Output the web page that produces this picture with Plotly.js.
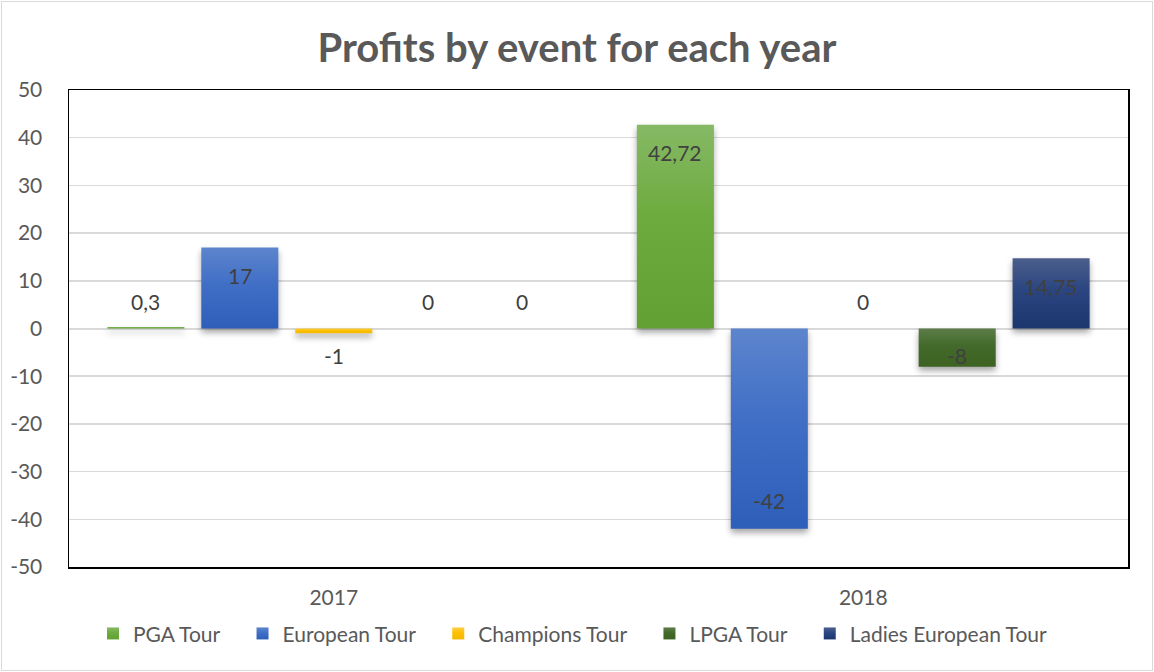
<!DOCTYPE html>
<html>
<head>
<meta charset="utf-8">
<script src="https://cdn.plot.ly/plotly-3.0.1.min.js"></script>
<style>
  html, body { margin: 0; padding: 0; background: #ffffff; }
  #wrap { position: relative; width: 1154px; height: 672px; }
  #chart { width: 1154px; height: 672px; }
  #frame { position: absolute; left: 1px; top: 1px; width: 1150px; height: 668px;
           border: 1px solid #d9d9d9; pointer-events: none; }
  .barlayer .point path { filter: drop-shadow(0px 4px 3px rgba(0,0,0,0.35)); }
</style>
</head>
<body>
<div id="wrap"><div id="chart"></div><div id="frame"></div></div>
<script>
const categories = ["2017", "2018"];
const seriesNames = ["PGA Tour", "European Tour", "Champions Tour", "LPGA Tour", "Ladies European Tour"];
const pgaTour = [0.3, 42.72];
const europeanTour = [17, -42];
const championsTour = [-1, 0];
const lpgaTour = [0, -8];
const ladiesEuropeanTour = [0, 14.75];
const yTickValues = [-50, -40, -30, -20, -10, 0, 10, 20, 30, 40, 50];

const seriesValues = [pgaTour, europeanTour, championsTour, lpgaTour, ladiesEuropeanTour];
const seriesColors = ["#6dab3e", "#416fc6", "#ffc000", "#436a2a", "#2a4580"];
const gradTop = ["#86b965", "#5d85cd", "#ffcd44", "#5c7c49", "#4c5f8c"];
const gradBottom = ["#62a033", "#2d5eb9", "#f5b800", "#3d6222", "#1c376e"];

const FONT = "Lato, 'Open Sans', sans-serif";
const bargap = 0.113;
const bargroupgap = 0.18;
const pxPerUnit = 478 / 100;
const legendExtraGap = 17;

function fmt(v) { return String(v).replace(".", ","); }

const traces = seriesValues.map((vals, i) => ({
  type: "bar",
  name: seriesNames[i],
  x: categories,
  y: vals,
  marker: { color: seriesColors[i], line: { width: 0 } },
  hoverinfo: "skip"
}));

const annotations = [];
seriesValues.forEach((vals, i) => {
  const offset = (i - 2) * (1 - bargap) / seriesValues.length;
  vals.forEach((v, j) => {
    const h = Math.abs(v) * pxPerUnit;
    const s = v < 0 ? -1 : 1;
    let y, yshift;
    if (h >= 55) { y = v; yshift = -s * 28; }
    else { y = 0; yshift = s * 27; }
    annotations.push({
      xref: "x", yref: "y", x: j + offset, y: y, yshift: yshift,
      text: fmt(v), showarrow: false, xanchor: "center", yanchor: "middle",
      font: { family: FONT, size: 21, color: "#404040" }
    });
  });
});

const layout = {
  width: 1154, height: 672,
  margin: { l: 69, r: 26, t: 90, b: 105 },
  paper_bgcolor: "#ffffff", plot_bgcolor: "#ffffff",
  barmode: "group", bargap: bargap, bargroupgap: bargroupgap,
  title: {
    text: "<b>Profits by event for each year</b>",
    x: 0.5, xanchor: "center", xref: "container",
    y: 1 - 48 / 672, yanchor: "middle",
    font: { family: FONT, size: 40, color: "#595959" }
  },
  xaxis: {
    type: "category",
    showline: true, linecolor: "#000000", linewidth: 1.5, mirror: true,
    showgrid: false, ticks: "", ticklabelstandoff: 11,
    tickfont: { family: FONT, size: 21, color: "#595959" }
  },
  yaxis: {
    range: [-50, 50], tickvals: yTickValues, ticktext: yTickValues.map(String),
    showline: true, linecolor: "#000000", linewidth: 1.5, mirror: true,
    showgrid: true, gridcolor: "#d9d9d9", gridwidth: 1.5,
    zeroline: true, zerolinecolor: "#d9d9d9", zerolinewidth: 2,
    ticks: "", ticklabelstandoff: 21,
    tickfont: { family: FONT, size: 21, color: "#595959" }
  },
  showlegend: true,
  legend: {
    orientation: "h", x: (573 - 69) / 1059, xanchor: "center", y: -0.14, yanchor: "middle",
    font: { family: FONT, size: 21, color: "#595959" },
    traceorder: "normal", itemclick: false
  },
  annotations: annotations
};

Plotly.newPlot("chart", traces, layout, { displayModeBar: false, staticPlot: true }).then(gd => {
  const svgNS = "http://www.w3.org/2000/svg";
  const svg = gd.querySelector("svg.main-svg");
  let defs = svg.querySelector("defs");
  if (!defs) { defs = document.createElementNS(svgNS, "defs"); svg.insertBefore(defs, svg.firstChild); }
  seriesColors.forEach((c, i) => {
    const g = document.createElementNS(svgNS, "linearGradient");
    g.setAttribute("id", "barGrad" + i);
    g.setAttribute("x1", "0"); g.setAttribute("y1", "0");
    g.setAttribute("x2", "0"); g.setAttribute("y2", "1");
    [[0, gradTop[i]], [0.45, c], [1, gradBottom[i]]].forEach(([o, col]) => {
      const st = document.createElementNS(svgNS, "stop");
      st.setAttribute("offset", String(o));
      st.setAttribute("stop-color", col);
      g.appendChild(st);
    });
    defs.appendChild(g);
  });
  gd.querySelectorAll(".barlayer .trace").forEach((tr, i) => {
    tr.querySelectorAll(".point path").forEach(p => { p.style.fill = "url(#barGrad" + i + ")"; });
  });
  gd.querySelectorAll(".legend [clip-path]").forEach(el => el.removeAttribute("clip-path"));
  const items = gd.querySelectorAll(".legend .traces");
  const n = items.length;
  items.forEach((tr, i) => {
    tr.querySelectorAll(".legendpoints path").forEach(p => { p.style.fill = "url(#barGrad" + i + ")"; });
    const t = tr.getAttribute("transform") || "";
    const m = t.match(/translate\(\s*([-\d.]+)[ ,]+([-\d.]+)\s*\)/);
    if (m) {
      const nx = parseFloat(m[1]) + (i - (n - 1) / 2) * legendExtraGap;
      tr.setAttribute("transform", "translate(" + nx + "," + m[2] + ")");
    }
  });
});
</script>
</body>
</html>
